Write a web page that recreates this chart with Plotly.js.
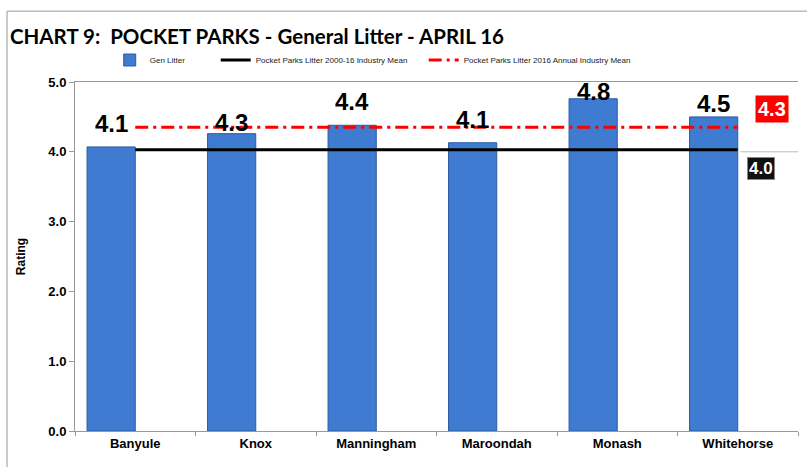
<!DOCTYPE html>
<html>
<head>
<meta charset="utf-8">
<script src="https://cdn.plot.ly/plotly-3.0.1.min.js"></script>
<style>html,body{margin:0;padding:0;background:#fff;}#chart{width:807px;height:467px;}</style>
</head>
<body>
<div id="chart"></div>
<script>
const categories = ["Banyule", "Knox", "Manningham", "Maroondah", "Monash", "Whitehorse"];
const genLitter = [4.07, 4.26, 4.38, 4.13, 4.76, 4.50];
const industryMean2000_16 = [4.03, 4.03, 4.03, 4.03, 4.03, 4.03];
const annualMean2016 = [4.35, 4.35, 4.35, 4.35, 4.35, 4.35];
const yTicks = [0, 1, 2, 3, 4, 5];
const labelShift = [8, -4, 8, 8, -8, -2];

const fmt = v => v.toFixed(1);

const traces = [
  {
    type: "bar", name: "Gen Litter", x: categories, y: genLitter,
    width: 0.4, offset: -0.4,
    marker: {color: "#3f7bd0", line: {color: "#2c5c9e", width: 1}},
    hoverinfo: "x+y", legendwidth: 61
  },
  {
    type: "scatter", mode: "lines", name: "Pocket Parks Litter 2000-16 Industry Mean",
    x: categories, y: industryMean2000_16,
    line: {color: "#000000", width: 3}, legendwidth: 163
  },
  {
    type: "scatter", mode: "lines", name: "Pocket Parks Litter 2016 Annual Industry Mean",
    x: categories, y: annualMean2016,
    line: {color: "#ff0000", width: 3, dash: "13px,5px,3px,5px"}
  }
];

const annotations = categories.map((c, i) => ({
  x: c, y: genLitter[i], xref: "x", yref: "y",
  text: fmt(genLitter[i]), showarrow: false,
  xshift: -24, yshift: labelShift[i], yanchor: "bottom",
  font: {family: "Liberation Sans, Arial, sans-serif", size: 24, color: "#000", weight: "bold"}
}));
annotations.push({
  xref: "paper", yref: "paper", x: 0.964, y: 0.923, xanchor: "center", yanchor: "middle",
  text: "<b>" + fmt(annualMean2016[0]) + "</b>", showarrow: false,
  bgcolor: "#ff0000", borderpad: 2,
  font: {family: "Liberation Sans, Arial, sans-serif", size: 20, color: "#fff"}
});
annotations.push({
  xref: "paper", yref: "paper", x: 0.949, y: 0.751, xanchor: "center", yanchor: "middle",
  text: "<b>" + fmt(industryMean2000_16[0]) + "</b>", showarrow: false,
  bgcolor: "#111111", bordercolor: "#888", borderwidth: 1, borderpad: 1,
  font: {family: "Liberation Sans, Arial, sans-serif", size: 17, color: "#fff"}
});

const layout = {
  width: 807, height: 467,
  margin: {l: 75, r: 9, t: 82, b: 36},
  paper_bgcolor: "#fff", plot_bgcolor: "#fff",
  title: {
    text: "<b>CHART 9:  POCKET PARKS - General Litter - APRIL 16</b>",
    x: 0.0124, xref: "container", xanchor: "left", y: 0.921, yref: "container", yanchor: "middle",
    font: {family: "Lato, Open Sans, sans-serif", size: 20.5, color: "#000"}
  },
  showlegend: true,
  legend: {
    orientation: "h", x: 0.048, y: 1.063, xanchor: "left", yanchor: "middle",
    font: {family: "Liberation Sans, Arial, sans-serif", size: 8, color: "#222"},
    bgcolor: "rgba(0,0,0,0)", itemwidth: 30
  },
  bargap: 0,
  xaxis: {
    type: "category", showgrid: false, showline: true, linecolor: "#999", linewidth: 1,
    mirror: true, ticks: "outside", tickson: "boundaries", ticklen: 4, tickcolor: "#999",
    tickfont: {family: "Liberation Sans, Arial, sans-serif", size: 13, color: "#000", weight: "bold"},
    fixedrange: true
  },
  yaxis: {
    range: [0, 5], tickvals: yTicks, ticktext: yTicks.map(fmt),
    showgrid: false, zeroline: false, showline: true, linecolor: "#999", linewidth: 1,
    ticks: "outside", ticklen: 5, tickcolor: "#999",
    tickfont: {family: "Liberation Sans, Arial, sans-serif", size: 13, color: "#000", weight: "bold"},
    title: {text: "<b>Rating</b>", standoff: 20, font: {family: "Liberation Sans, Arial, sans-serif", size: 12, color: "#000"}},
    fixedrange: true
  },
  annotations: annotations,
  shapes: [
    {type: "line", xref: "paper", yref: "paper", x0: -0.094, x1: -0.094, y0: -0.2, y1: 1.203, line: {color: "#999", width: 1}},
    {type: "line", xref: "paper", yref: "paper", x0: -0.094, x1: 1.02, y0: 1.203, y1: 1.203, line: {color: "#999", width: 1}},
    {type: "line", xref: "paper", yref: "y", x0: 0.92, x1: 1.0, y0: 4.0, y1: 4.0, line: {color: "#bbb", width: 1}, layer: "below"}
  ]
};

Plotly.newPlot("chart", traces, layout, {displayModeBar: false, staticPlot: true});
</script>
</body>
</html>
